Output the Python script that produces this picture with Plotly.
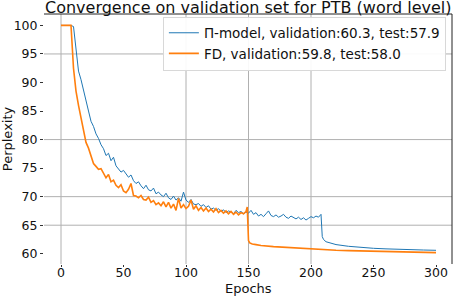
import plotly.graph_objects as go

# ---------------- data ----------------
pi_epochs = [0, 2, 4, 6, 8, 10, 12, 14, 16, 18, 20, 22, 24, 26, 28, 30, 32, 34, 36, 38,
             40, 42, 44, 46, 48, 50, 52, 54, 56, 58, 60, 62, 64, 66, 68, 70, 72, 74, 76, 78,
             80, 82, 84, 86, 88, 90, 92, 94, 96, 98, 100, 102, 104, 106, 108, 110, 112, 114, 116, 118,
             120, 122, 124, 126, 128, 130, 132, 134, 136, 138, 140, 142, 144, 146, 148, 150, 152, 154, 156, 158,
             160, 162, 164, 166, 168, 170, 172, 174, 176, 178, 180, 182, 184, 186, 188, 190, 192, 194, 196, 198,
             200, 202, 204, 206, 208, 209, 210, 212, 215, 220, 230, 240, 250, 260, 270, 280, 290, 300]
pi_values = [100, 100, 100, 100, 100, 99.8, 96.0, 92.0, 90.5, 88.5, 86.8, 85.0, 83.2, 82.3, 81.0, 80.2, 79.1, 78.4, 77.2, 77.6,
             76.3, 76.9, 75.4, 74.8, 74.3, 74.6, 73.9, 73.4, 73.8, 72.8, 72.3, 72.6, 71.9, 71.4, 72.0, 71.2, 71.0, 71.5, 70.5, 70.8,
             70.3, 70.0, 70.6, 69.8, 69.5, 70.1, 69.4, 69.8, 69.2, 70.8, 69.4, 69.0, 69.5, 68.7, 68.6, 68.8, 68.3, 68.6, 68.1, 68.4,
             67.8, 68.0, 67.6, 67.9, 67.4, 67.7, 67.2, 67.5, 67.3, 67.0, 67.6, 67.2, 67.4, 67.0, 67.3, 67.1, 67.6, 66.9, 67.2, 66.6,
             66.9, 66.5, 67.0, 67.5, 66.7, 66.5, 66.8, 66.4, 66.6, 66.9, 66.4, 66.2, 66.6, 66.3, 66.1, 66.4, 66.0, 66.3, 65.9, 66.2,
             66.5, 66.3, 66.6, 66.4, 66.9, 63.0, 62.5, 62.1, 61.9, 61.6, 61.3, 61.1, 60.95, 60.85, 60.75, 60.7, 60.65, 60.6]

fd_epochs = [0, 2, 4, 6, 8, 10, 12, 14, 16, 18, 20, 22, 24, 26, 28, 30, 32, 34, 36, 38,
             40, 42, 44, 46, 48, 50, 52, 54, 56, 58, 60, 62, 64, 66, 68, 70, 72, 74, 76, 78,
             80, 82, 84, 86, 88, 90, 92, 94, 96, 98, 100, 102, 104, 106, 108, 110, 112, 114, 116, 118,
             120, 122, 124, 126, 128, 130, 132, 134, 136, 138, 140, 142, 144, 146, 148, 149, 150, 151, 153, 156,
             160, 170, 180, 190, 200, 210, 220, 230, 240, 250, 260, 270, 280, 290, 300]
fd_values = [100, 100, 100, 100, 100, 92.5, 88.5, 86.0, 83.8, 81.5, 79.5, 78.5, 77.0, 75.8, 75.3, 74.8, 74.9, 74.2, 73.3, 73.9,
             72.6, 72.9, 72.0, 71.6, 72.1, 71.0, 70.7, 71.3, 72.3, 70.2, 70.1, 69.8, 70.2, 69.5, 69.4, 69.9, 69.0, 69.3, 68.6, 68.9,
             68.4, 69.1, 68.2, 69.0, 68.0, 68.7, 67.6, 69.7, 68.0, 68.6, 67.9, 68.3, 69.4, 67.8, 68.4, 67.6, 68.1, 67.5, 68.0, 67.4,
             67.8, 67.3, 67.9, 67.2, 67.6, 67.1, 67.5, 67.0, 67.4, 66.9, 67.3, 66.8, 67.2, 67.0, 67.4, 68.2, 62.3, 61.9, 61.7, 61.6,
             61.45, 61.25, 61.1, 60.95, 60.8, 60.7, 60.6, 60.55, 60.5, 60.45, 60.4, 60.35, 60.3, 60.25, 60.2]

x_ticks = [0, 50, 100, 150, 200, 250, 300]
y_ticks = [60, 65, 70, 75, 80, 85, 90, 95, 100]
x_grid = [0, 100, 150, 200]
y_grid = [95, 80, 70, 65]

FONT = "DejaVu Sans"
TXT = "#111111"

fig = go.Figure()
fig.add_trace(go.Scatter(x=pi_epochs, y=pi_values, mode="lines",
                         line=dict(color="#1f77b4", width=1),
                         name="Π-model, validation:60.3, test:57.9"))
fig.add_trace(go.Scatter(x=fd_epochs, y=fd_values, mode="lines",
                         line=dict(color="#ff7f0e", width=1.6),
                         name="FD, validation:59.8, test:58.0"))

shapes = []
for gx in x_grid:
    shapes.append(dict(type="line", xref="x", yref="paper", x0=gx, x1=gx, y0=0, y1=1,
                       line=dict(color="#b0b0b0", width=1), layer="below"))
for gy in y_grid:
    shapes.append(dict(type="line", xref="paper", yref="y", x0=0, x1=1, y0=gy, y1=gy,
                       line=dict(color="#b0b0b0", width=1), layer="below"))
# top and right spines
shapes.append(dict(type="line", xref="paper", yref="paper", x0=0, x1=1, y0=1, y1=1,
                   line=dict(color="#222222", width=1)))
shapes.append(dict(type="line", xref="paper", yref="paper", x0=1, x1=1, y0=0, y1=1,
                   line=dict(color="#222222", width=1)))

fig.update_layout(
    width=458, height=296,
    margin=dict(l=44, r=6, t=14, b=32, autoexpand=False),
    paper_bgcolor="white", plot_bgcolor="white",
    font=dict(family=FONT, size=13, color=TXT),
    shapes=shapes,
    annotations=[
        dict(text="Convergence on validation set for PTB (word level)",
             xref="paper", yref="paper", x=0.5, y=1, xanchor="center",
             yanchor="bottom", yshift=-5, showarrow=False,
             font=dict(family=FONT, size=16, color=TXT)),
        dict(text="Epochs", xref="paper", yref="paper", x=0.5, y=0, xanchor="center",
             yanchor="middle", yshift=-24, showarrow=False,
             font=dict(family=FONT, size=13, color=TXT)),
    ],
    showlegend=True,
    legend=dict(x=0.985, xanchor="right", y=0.99, yanchor="top",
                bgcolor="rgba(255,255,255,0.92)", bordercolor="#d8d8d8", borderwidth=1,
                font=dict(family=FONT, size=13.5, color=TXT),
                itemwidth=30, tracegroupgap=0),
    xaxis=dict(range=[-13.6, 312.8], tickvals=x_ticks, showgrid=False, zeroline=False,
               ticks="outside", ticklen=2, tickcolor="#333333", showline=False,
               tickfont=dict(size=12.5), ticklabelstandoff=-5),
    yaxis=dict(range=[58.2, 102.0], tickvals=y_ticks, showgrid=False, zeroline=False,
               ticks="outside", ticklen=3, tickcolor="#333333", showline=False,
               tickfont=dict(size=12.5),
               title=dict(text="Perplexity", standoff=2, font=dict(size=13))),
)

fig.write_html("out.html", config={"displayModeBar": False},
               post_script="document.body.style.margin='0px';document.body.style.overflow='hidden';")
